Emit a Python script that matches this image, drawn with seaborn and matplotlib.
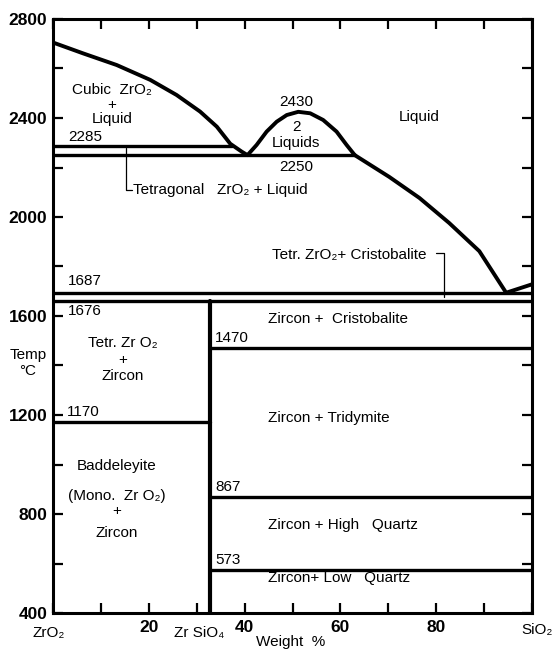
import matplotlib.pyplot as plt
import seaborn as sns

# ZrO2 - SiO2 phase diagram, x = weight % SiO2, y = temp in C
liq_left_x = [0, 6.3, 13.3, 20.3, 25.8, 30.7, 34.2, 37.0, 39.4, 40.6]
liq_left_t = [2705, 2661, 2614, 2554, 2493, 2426, 2365, 2296, 2264, 2250]

dome_x = [40.6, 42.5, 44.6, 46.7, 48.8, 51.2, 53.7, 56.4, 59.2, 61.3, 63.0]
dome_t = [2250, 2291, 2345, 2385, 2412, 2425, 2419, 2392, 2345, 2291, 2250]

liq_right_x = [63.0, 70.2, 76.5, 82.7, 89.0, 94.6, 100]
liq_right_t = [2250, 2162, 2077, 1976, 1862, 1694, 1728]

zircon_x = 32.8

# isotherms as drawn: temp, start x, end x
iso_t = [2285, 2250, 1694, 1662, 1470, 1170, 867, 573]
iso_x0 = [0, 0, 0, 0, 32.8, 0, 32.8, 32.8]
iso_x1 = [37.3, 63.0, 100, 100, 100, 32.8, 100, 100]

# numbers written next to the lines
iso_labels = ['2285', '1687', '1470', '1170', '867', '573']
iso_label_x = [3.1, 3.1, 33.8, 2.9, 33.8, 33.8]
iso_label_t = [2322, 1740, 1512, 1212, 910, 616]

y_ticks = list(range(400, 2801, 200))
y_ticklabels = [str(t) if t % 400 == 0 else '' for t in y_ticks]
x_ticks = list(range(0, 101, 10))
x_ticklabels = [str(v) if v in (20, 40, 60, 80) else '' for v in x_ticks]

sns.set_style('ticks', {'text.color': 'black', 'axes.edgecolor': 'black',
                        'xtick.color': 'black', 'ytick.color': 'black',
                        'axes.labelcolor': 'black'})
plt.rcParams['font.family'] = ['Liberation Sans', 'DejaVu Sans']

fig, ax = plt.subplots(figsize=(5.54, 6.49), dpi=100)
fig.subplots_adjust(left=53/554, right=532/554, top=1-19/649, bottom=1-613/649)

def line(xs, ts, lw=2.6):
    sns.lineplot(x=xs, y=ts, sort=False, estimator=None, color='black',
                 linewidth=lw, ax=ax, legend=False)

line(liq_left_x, liq_left_t, 2.8)
line(dome_x, dome_t, 2.8)
line(liq_right_x, liq_right_t, 2.8)
for t, a, b in zip(iso_t, iso_x0, iso_x1):
    line([a, b], [t, t], 2.4)
line([zircon_x, zircon_x], [400, iso_t[3]], 3.0)

# leader lines
line([15.2, 15.2, 16.4], [2279, 2109, 2109], 0.9)
line([80.0, 81.7, 81.7], [1855, 1855, 1678], 0.9)

fs = 11
def txt(x, t, s, ha='center', **kw):
    ax.text(x, t, s, ha=ha, va='center', fontsize=fs, color='black', **kw)

for s, x, t in zip(iso_labels, iso_label_x, iso_label_t):
    txt(x, t, s, ha='left')
txt(3.1, 1620, '1676', ha='left')

txt(12.3, 2513, 'Cubic  ZrO₂')
txt(12.3, 2454, '+')
txt(12.3, 2395, 'Liquid')
txt(50.8, 2465, '2430')
txt(50.8, 2364, '2')
txt(50.8, 2299, 'Liquids')
txt(50.8, 2202, '2250')
txt(76.5, 2404, 'Liquid')
txt(16.6, 2109, 'Tetragonal   ZrO₂ + Liquid', ha='left')
txt(45.7, 1847, 'Tetr. ZrO₂+ Cristobalite', ha='left')

txt(14.6, 1491, 'Tetr. Zr O₂')
txt(14.6, 1422, '+')
txt(14.6, 1358, 'Zircon')
txt(13.3, 993, 'Baddeleyite')
txt(13.3, 873, '(Mono.  Zr O₂)')
txt(13.3, 811, '+')
txt(13.3, 723, 'Zircon')

txt(44.8, 1588, 'Zircon +  Cristobalite', ha='left')
txt(44.8, 1188, 'Zircon + Tridymite', ha='left')
txt(44.8, 756, 'Zircon + High   Quartz', ha='left')
txt(44.8, 542, 'Zircon+ Low   Quartz', ha='left')

ax.set_xlim(0, 100)
ax.set_ylim(400, 2800)
ax.set_yticks(y_ticks)
ax.set_yticklabels(y_ticklabels, fontweight='bold', fontsize=12.5)
ax.set_xticks(x_ticks)
ax.set_xticklabels(x_ticklabels, fontweight='bold', fontsize=12.5)
ax.tick_params(direction='in', length=7, width=1.6, top=True, right=True,
               labelright=False, labeltop=False)
ax.tick_params(axis='x', pad=5)
ax.tick_params(axis='y', pad=4)
for sp in ax.spines.values():
    sp.set_linewidth(2.2)
ax.set_xlabel('')
ax.set_ylabel('')

xt = ax.get_xaxis_transform()
ax.text(-1.0, -0.034, 'ZrO₂', transform=xt, ha='center', va='center', fontsize=fs)
ax.text(30.5, -0.034, 'Zr SiO₄', transform=xt, ha='center', va='center', fontsize=fs)
ax.text(101.0, -0.029, 'SiO₂', transform=xt, ha='center', va='center', fontsize=fs)
ax.text(49.7, -0.049, 'Weight  %', transform=xt, ha='center', va='center', fontsize=fs)

yt = ax.get_yaxis_transform()
ax.text(-0.052, 1410, 'Temp\n°C', transform=yt, ha='center', va='center',
        fontsize=fs, linespacing=1.1)

fig.savefig('out.png', dpi=100)
